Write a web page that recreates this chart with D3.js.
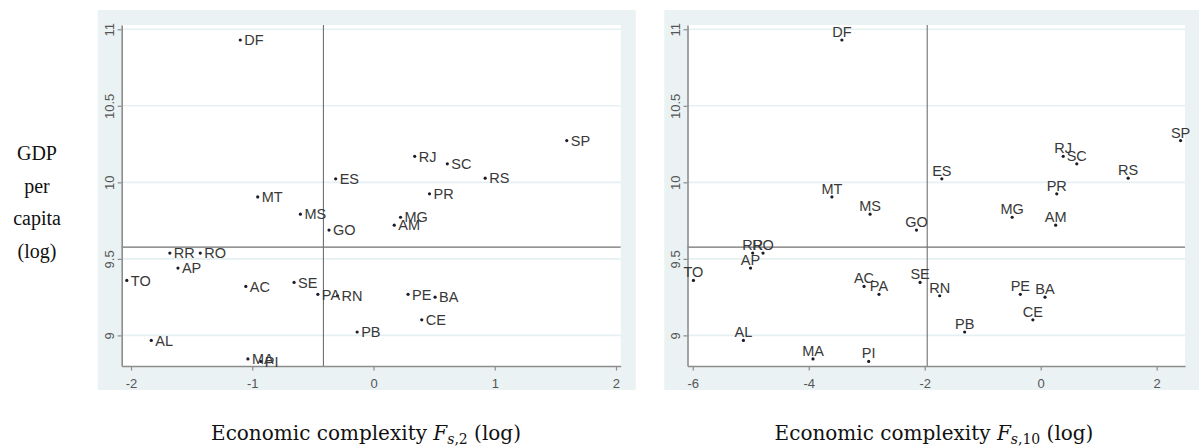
<!DOCTYPE html>
<html>
<head>
<meta charset="utf-8">
<script src="https://cdn.jsdelivr.net/npm/d3@7"></script>
<style>
  body { margin: 0; background: #fff; }
  svg { display: block; }
</style>
</head>
<body>
<script>
// state codes and values
var states = ["DF","SP","RJ","SC","RS","ES","PR","MT","MS","MG","AM","GO","RR","RO","AP","TO",
  "AC","SE","PA","RN","PE","BA","CE","PB","AL","MA","PI"];
var gdpLog = [10.93, 10.273, 10.17, 10.121, 10.027, 10.023, 9.925, 9.905, 9.792, 9.772, 9.72, 9.688,
  9.538, 9.538, 9.44, 9.359, 9.32, 9.346, 9.268, 9.259, 9.268, 9.25, 9.102, 9.022, 8.967, 8.846, 8.83];
var fs2Log = [-1.099, 1.594, 0.34, 0.609, 0.921, -0.312, 0.462, -0.955, -0.603, 0.223, 0.171, -0.367,
  -1.68, -1.429, -1.613, -2.035, -1.053, -0.655, -0.459, -0.297, 0.285, 0.508, 0.398, -0.135, -1.833, -1.036, -0.93];
var fs10Log = [-3.428, 2.412, 0.388, 0.622, 1.508, -1.705, 0.277, -3.6, -2.942, -0.492, 0.258, -2.142,
  -4.966, -4.788, -5.003, -5.988, -3.046, -2.08, -2.788, -1.742, -0.351, 0.074, -0.135, -1.311, -5.126, -3.926, -2.966];

var yTicks = [9, 9.5, 10, 10.5, 11];
var xTicksLeft = [-2, -1, 0, 1, 2];
var xTicksRight = [-6, -4, -2, 0, 2];
var meanGdp = 9.577;
var meanFs2 = -0.413;
var meanFs10 = -1.957;

var svg = d3.select("body").append("svg")
  .attr("width", 1199)
  .attr("height", 448);

// y title on the far left
var yTitle = svg.append("text")
  .attr("text-anchor", "middle")
  .attr("font-family", "Liberation Serif, serif")
  .attr("font-size", 20)
  .attr("fill", "#111");
["GDP", "per", "capita", "(log)"].forEach(function (t, i) {
  yTitle.append("tspan").attr("x", 37).attr("y", 160 + i * 32.7).text(t);
});

drawPanel({
  bg: [97.7, 10, 635.7, 390],
  plot: [121.7, 25, 620.7, 366],
  xDomain: [-2.077, 2.039],
  xTicks: xTicksLeft,
  xs: fs2Log,
  vline: meanFs2,
  labelPos: "right",
  sub: "2",
  titleX: 366
});

drawPanel({
  bg: [664.3, 10, 1199, 390],
  plot: [687.5, 25, 1185, 366],
  xDomain: [-6.09, 2.488],
  xTicks: xTicksRight,
  xs: fs10Log,
  vline: meanFs10,
  labelPos: "top",
  sub: "10",
  titleX: 934
});

function drawPanel(cfg) {
  var p = cfg.plot;
  svg.append("rect")
    .attr("x", cfg.bg[0]).attr("y", cfg.bg[1])
    .attr("width", cfg.bg[2] - cfg.bg[0]).attr("height", cfg.bg[3] - cfg.bg[1])
    .attr("fill", "#eaf2f3");
  svg.append("rect")
    .attr("x", p[0]).attr("y", p[1])
    .attr("width", p[2] - p[0]).attr("height", p[3] - p[1])
    .attr("fill", "#fff");

  var x = d3.scaleLinear().domain(cfg.xDomain).range([p[0], p[2]]);
  var y = d3.scaleLinear().domain([8.80, 11.028]).range([p[3], p[1]]);

  // grid lines
  svg.append("g").selectAll("line")
    .data(yTicks)
    .enter().append("line")
    .attr("x1", p[0]).attr("x2", p[2])
    .attr("y1", function (d) { return y(d); })
    .attr("y2", function (d) { return y(d); })
    .attr("stroke", "#e6eff1")
    .attr("stroke-width", 1.6);

  // reference lines at the means
  svg.append("line")
    .attr("x1", x(cfg.vline)).attr("x2", x(cfg.vline))
    .attr("y1", p[1]).attr("y2", p[3])
    .attr("stroke", "#707070").attr("stroke-width", 1.1);
  svg.append("line")
    .attr("x1", p[0]).attr("x2", p[2])
    .attr("y1", y(meanGdp)).attr("y2", y(meanGdp))
    .attr("stroke", "#707070").attr("stroke-width", 1.1);

  // axes (plain hyphen for negatives, as in the source)
  var gx = svg.append("g")
    .attr("transform", "translate(0," + p[3] + ")")
    .call(d3.axisBottom(x).tickValues(cfg.xTicks).tickSize(4.5).tickSizeOuter(0).tickPadding(8)
      .tickFormat(function (d) { return String(d); }));
  var gy = svg.append("g")
    .attr("transform", "translate(" + p[0] + ",0)")
    .call(d3.axisLeft(y).tickValues(yTicks).tickSize(4).tickSizeOuter(0)
      .tickFormat(function (d) { return String(d); }));
  [gx, gy].forEach(function (g) {
    g.select(".domain").attr("stroke", "#8c8c8c").attr("stroke-width", 1.6);
    g.selectAll(".tick line").attr("stroke", "#8c8c8c").attr("stroke-width", 1.2);
    g.selectAll(".tick text")
      .attr("font-family", "Liberation Sans, Arial, sans-serif")
      .attr("font-size", 13)
      .attr("fill", "#555");
  });
  gx.selectAll(".tick text").attr("dy", "0.71em");
  gy.selectAll(".tick text")
    .attr("x", null).attr("dy", null)
    .attr("text-anchor", "middle")
    .attr("transform", "translate(-8,0) rotate(-90)");

  // points
  var pts = states.map(function (s, i) { return { s: s, x: cfg.xs[i], y: gdpLog[i] }; });
  svg.append("g").selectAll("circle")
    .data(pts)
    .enter().append("circle")
    .attr("cx", function (d) { return x(d.x); })
    .attr("cy", function (d) { return y(d.y); })
    .attr("r", 1.6)
    .attr("fill", "#1b1b2a");

  var lab = svg.append("g").selectAll("text")
    .data(pts)
    .enter().append("text")
    .attr("font-family", "Liberation Sans, Arial, sans-serif")
    .attr("font-size", 14.5)
    .attr("fill", "#383838")
    .text(function (d) { return d.s; });
  if (cfg.labelPos === "right") {
    lab.attr("x", function (d) { return x(d.x) + 4; })
      .attr("y", function (d) { return y(d.y); })
      .attr("dy", "0.36em");
  } else {
    lab.attr("x", function (d) { return x(d.x); })
      .attr("y", function (d) { return y(d.y) - 3; })
      .attr("text-anchor", "middle");
  }

  // x title
  var t = svg.append("text")
    .attr("x", cfg.titleX).attr("y", 440)
    .attr("text-anchor", "middle")
    .attr("font-family", "DejaVu Serif, serif")
    .attr("font-size", 20)
    .attr("fill", "#111");
  t.append("tspan").text("Economic complexity ");
  t.append("tspan").attr("font-style", "italic").text("F");
  t.append("tspan").attr("font-style", "italic").attr("font-size", 14).attr("dy", 4).text("s");
  t.append("tspan").attr("font-size", 14).text("," + cfg.sub);
  t.append("tspan").attr("dy", -4).text(" (log)");
}
</script>
</body>
</html>
